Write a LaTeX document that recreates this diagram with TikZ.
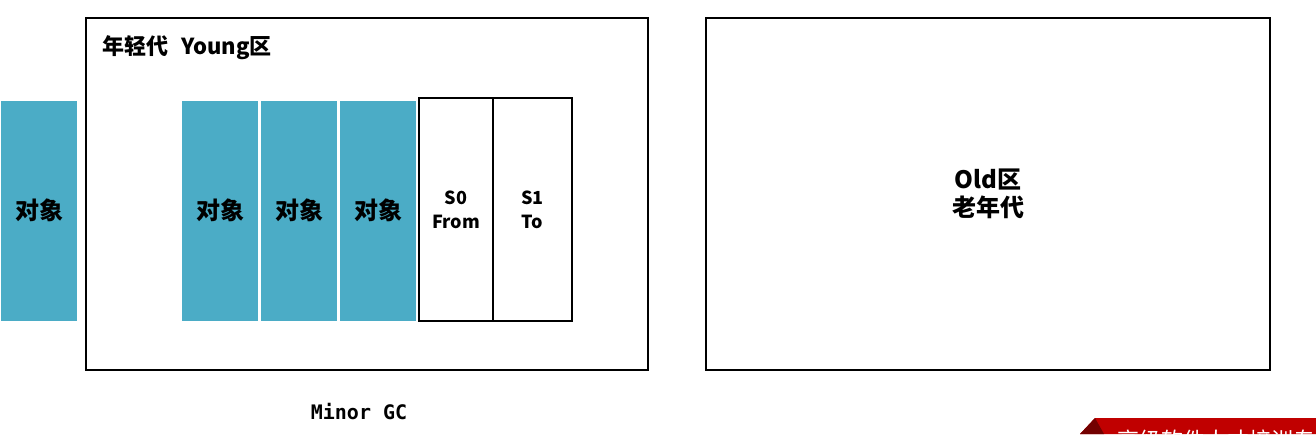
\documentclass[tikz,border=0pt]{standalone}
\usepackage{fontspec}
\setmainfont{Noto Sans CJK SC}
\newfontfamily\monofont{DejaVu Sans Mono}
\usetikzlibrary{shadows}
\definecolor{objteal}{HTML}{4BACC6}
\definecolor{bannerred}{HTML}{C00000}
\begin{document}
\begin{tikzpicture}[x=1pt,y=-1pt]
		\tikzstyle{area}=[draw=black,line width=2.8pt,fill=white]
		\tikzstyle{obj}=[rectangle,fill=objteal,draw=white,line width=2pt,minimum width=78pt,minimum height=222pt,inner sep=0pt,font=\fontsize{24}{26}\selectfont\bfseries,drop shadow={shadow xshift=1pt,shadow yshift=-1.5pt,opacity=0.25}]
		\tikzstyle{surv}=[rectangle,draw=black,line width=2.4pt,minimum height=223pt,inner sep=0pt,align=center,font=\fontsize{18}{24}\selectfont\bfseries]

		\useasboundingbox (0,0) rectangle (1316,434);
		\clip (0,0) rectangle (1316,434);

		\node [area,minimum width=562pt,minimum height=352pt] (young) at (367,194) {};
		\node [area,minimum width=564pt,minimum height=352pt,align=center,font=\fontsize{24}{28}\selectfont\bfseries] (old) at (988,194) {Old区\\老年代};
		\node [anchor=west,inner sep=0pt,font=\fontsize{22}{24}\selectfont\bfseries] (ylabel) at (102,48) {年轻代\hspace{0.6em}Young区};

		\node [obj] (out) at (39,210.5) {对象};
		\node [obj] (o1) at (220,210.5) {对象};
		\node [obj] (o2) at (299,210.5) {对象};
		\node [obj] (o3) at (378,210.5) {对象};

		\node [surv,minimum width=74pt] (s0) at (456,209.5) {S0\\From};
		\node [surv,minimum width=79pt] (s1) at (532.5,209.5) {S1\\To};

		\node [font=\monofont\bfseries\fontsize{20}{22}\selectfont] (gc) at (359,412) {Minor GC};

		% banner
		\fill [bannerred] (1080,434) -- (1095,418) -- (1316,418) -- (1316,434) -- cycle;
		\fill [bannerred!60!black] (1080,434) -- (1095,418) -- (1104,434) -- cycle;
		\node [anchor=west,text=white,font=\fontsize{22}{24}\selectfont] (ban) at (1114,440) {高级软件人才培训专家};
\end{tikzpicture}
\end{document}
